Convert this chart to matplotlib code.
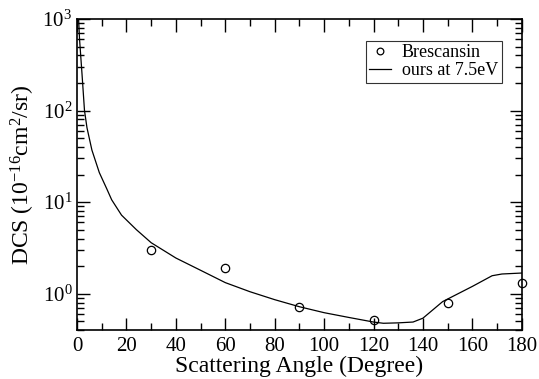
import matplotlib
matplotlib.use('Agg')
import matplotlib.pyplot as plt
from matplotlib.ticker import MultipleLocator, LogLocator, LogFormatterSciNotation

plt.rcParams['font.family'] = ['Liberation Serif', 'DejaVu Serif']
plt.rcParams['mathtext.fontset'] = 'custom'
plt.rcParams['mathtext.rm'] = 'Liberation Serif'
plt.rcParams['mathtext.it'] = 'Liberation Serif:italic'

# Brescansin (experiment)
exp_angle = [30, 60, 90, 120, 150, 180]
exp_dcs = [3.0, 1.9, 0.71, 0.51, 0.80, 1.31]

# ours at 7.5 eV
th_angle = [0.3, 1, 2, 3, 4, 6, 9, 12, 14, 18, 24, 30, 40, 50, 60,
            70, 80, 90, 100, 110, 120, 124, 130, 136, 140, 148, 160, 168, 172, 180]
th_dcs = [1500, 600, 250, 100, 65, 37, 21, 14, 10.6, 7.2, 5.0, 3.6, 2.45, 1.8, 1.32,
          1.05, 0.86, 0.72, 0.62, 0.55, 0.49, 0.475, 0.48, 0.49, 0.54, 0.82, 1.2, 1.57, 1.64, 1.68]

fig = plt.figure(figsize=(5.39, 3.79), dpi=100)
ax = fig.add_axes([0.143, 0.129, 0.825, 0.821])

ax.plot(exp_angle, exp_dcs, 'o', mfc='none', mec='black', ms=6, mew=0.9,
        label='Brescansin', clip_on=False, zorder=3)
ax.plot(th_angle, th_dcs, '-', color='black', lw=0.9, label='ours at 7.5eV')

ax.set_yscale('log')
ax.set_xlim(0, 180)
ax.set_ylim(0.4, 1000)
ax.xaxis.set_major_locator(MultipleLocator(20))
ax.xaxis.set_minor_locator(MultipleLocator(10))
ax.yaxis.set_major_locator(LogLocator(base=10, numticks=10))
ax.yaxis.set_minor_locator(LogLocator(base=10, subs=range(2, 10), numticks=20))
ax.yaxis.set_major_formatter(LogFormatterSciNotation())
ax.tick_params(which='both', direction='in', top=True, right=True, labelsize=15, width=1)
ax.tick_params(axis='x', pad=5)
ax.tick_params(which='major', length=9)
ax.tick_params(which='minor', length=5)
for s in ax.spines.values():
    s.set_linewidth(1.2)

ax.set_xlabel('Scattering Angle (Degree)', fontsize=17, labelpad=0)
ax.set_ylabel('DCS (10$^{-16}$cm$^2$/sr)', fontsize=17, labelpad=4)

leg = ax.legend(loc='upper right', bbox_to_anchor=(0.955, 0.93), borderaxespad=0,
                fontsize=13, frameon=True, fancybox=False, edgecolor='black',
                handlelength=1.2, handletextpad=0.6, borderpad=0.2,
                labelspacing=0.05, markerscale=0.8)
leg.get_frame().set_linewidth(0.8)

fig.savefig('out.png', dpi=100)
